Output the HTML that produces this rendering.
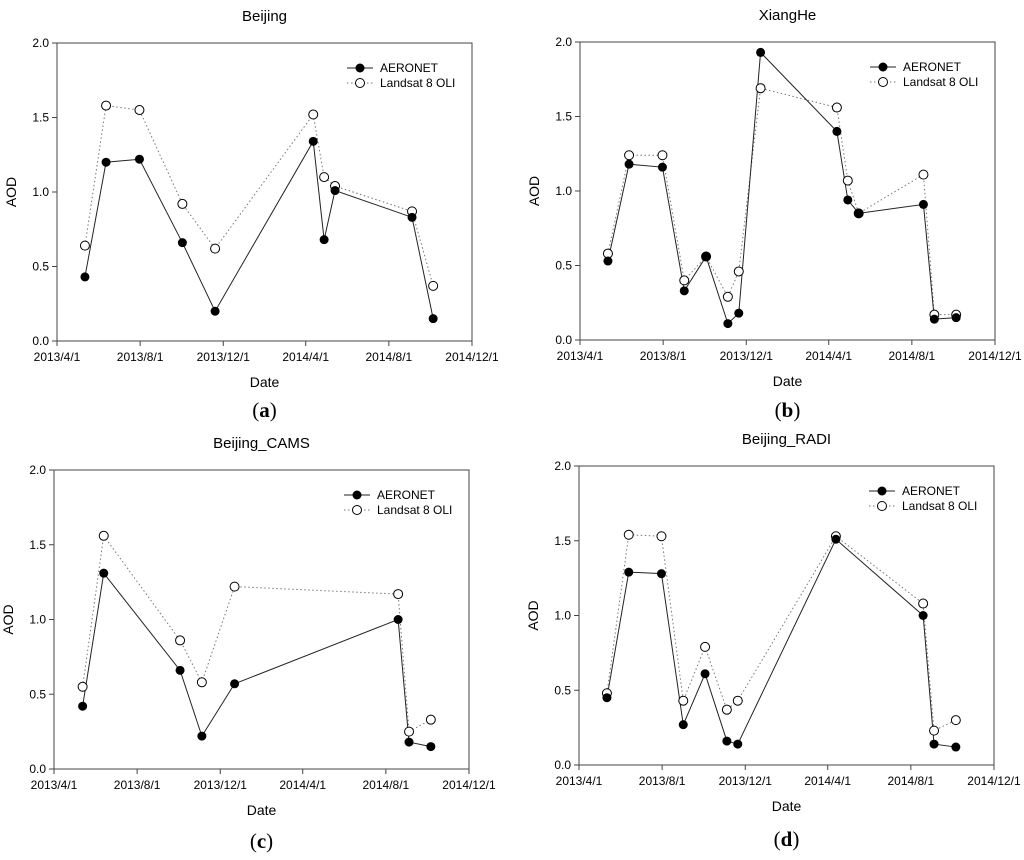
<!DOCTYPE html>
<html><head><meta charset="utf-8"><style>
body{margin:0;background:#fff;width:1024px;height:855px;overflow:hidden}
svg text{font-family:"Liberation Sans",Arial,sans-serif;fill:#000}
.cap{font-family:"Liberation Serif",serif;font-size:21px}
</style></head><body>
<svg id="fig" width="1024" height="855" viewBox="0 0 1024 855"></svg>
<script>
const tickLabels=["2013/4/1","2013/8/1","2013/12/1","2014/4/1","2014/8/1","2014/12/1"];
const tickDays=[0,122,244,365,487,609];
const yTicks=[0,0.5,1.0,1.5,2.0];
const aDays=[41,72,121,184,232,376,392,408,521,552];
const aAer=[0.43,1.20,1.22,0.66,0.20,1.34,0.68,1.01,0.83,0.15];
const aLand=[0.64,1.58,1.55,0.92,0.62,1.52,1.10,1.04,0.87,0.37];
const bDays=[41,72,121,153,185,217,233,265,377,393,409,504,520,552];
const bAer=[0.53,1.18,1.16,0.33,0.56,0.11,0.18,1.93,1.40,0.94,0.85,0.91,0.14,0.15];
const bLand=[0.58,1.24,1.24,0.40,0.56,0.29,0.46,1.69,1.56,1.07,0.85,1.11,0.17,0.17];
const cDays=[42,73,185,217,265,505,521,553];
const cAer=[0.42,1.31,0.66,0.22,0.57,1.00,0.18,0.15];
const cLand=[0.55,1.56,0.86,0.58,1.22,1.17,0.25,0.33];
const dDays=[41,73,121,153,185,217,233,377,505,521,553];
const dAer=[0.45,1.29,1.28,0.27,0.61,0.16,0.14,1.51,1.00,0.14,0.12];
const dLand=[0.48,1.54,1.53,0.43,0.79,0.37,0.43,1.53,1.08,0.23,0.30];

const NS="http://www.w3.org/2000/svg";
const svg=document.getElementById('fig');
function mk(tag,attrs,parent){const e=document.createElementNS(NS,tag);for(const k in attrs)e.setAttribute(k,attrs[k]);(parent||svg).appendChild(e);return e;}

function panel(id,title,cap,L,R,T,B,days,aer,land,capY){
  const g=mk('g',{});
  
  
  const xs=d=>L+(d/609)*(R-L);
  const ys=v=>B-(v/2)*(B-T);
  const cx=(L+R)/2;
  let t=mk('text',{x:cx,y:T-22,'text-anchor':'middle','font-size':15},g);t.textContent=title;
  
  const fr=mk('rect',{x:L,y:T,width:R-L,height:B-T,fill:'none',stroke:'#444','stroke-width':1},g);
  
  tickDays.forEach((d,i)=>{
    const x=xs(d);
    mk('line',{x1:x,x2:x,y1:B,y2:B+5,stroke:'#444'},g);
    const tl=mk('text',{x:x,y:B+20,'text-anchor':'middle','font-size':12},g);tl.textContent=tickLabels[i];
    
  });
  yTicks.forEach(v=>{
    const y=ys(v);
    mk('line',{x1:L-5,x2:L,y1:y,y2:y,stroke:'#444'},g);
    const tl=mk('text',{x:L-8,y:y+4,'text-anchor':'end','font-size':12},g);tl.textContent=v.toFixed(1);
    
  });
  const xt=mk('text',{x:cx,y:B+46,'text-anchor':'middle','font-size':14},g);xt.textContent='Date';
  
  const yx=L-41,yy=(T+B)/2;
  const yt=mk('text',{x:yx,y:yy,'text-anchor':'middle','font-size':14,transform:`rotate(-90 ${yx} ${yy})`},g);yt.textContent='AOD';
  
  const lp=land.map((v,i)=>xs(days[i])+','+ys(v)).join(' ');
  const ll=mk('polyline',{points:lp,fill:'none',stroke:'#777','stroke-width':1,'stroke-dasharray':'1.5,2.5'},g);
  
  const ap=aer.map((v,i)=>xs(days[i])+','+ys(v)).join(' ');
  const al=mk('polyline',{points:ap,fill:'none',stroke:'#222','stroke-width':1},g);
  
  land.forEach((v,i)=>{const c=mk('circle',{cx:xs(days[i]),cy:ys(v),r:4.5,fill:'#fff',stroke:'#000','stroke-width':1},g);
    });
  aer.forEach((v,i)=>{const c=mk('circle',{cx:xs(days[i]),cy:ys(v),r:4.5,fill:'#000'},g);
    });
  const lx=R-125,ly=T+25;
  const lg=mk('g',{},g);
  
  mk('line',{x1:lx,x2:lx+26,y1:ly,y2:ly,stroke:'#222'},lg);
  mk('circle',{cx:lx+13,cy:ly,r:4.5,fill:'#000'},lg);
  let lt=mk('text',{x:lx+33,y:ly+4,'font-size':12},lg);lt.textContent='AERONET';
  
  mk('line',{x1:lx,x2:lx+26,y1:ly+15,y2:ly+15,stroke:'#777','stroke-dasharray':'1.5,2.5'},lg);
  mk('circle',{cx:lx+13,cy:ly+15,r:4.5,fill:'#fff',stroke:'#000'},lg);
  lt=mk('text',{x:lx+33,y:ly+19,'font-size':12},lg);lt.textContent='Landsat 8 OLI';
  
  const cp=mk('text',{x:cx,y:capY,'text-anchor':'middle',class:'cap'},g);
  cp.innerHTML='(<tspan font-weight="bold">'+cap+'</tspan>)';
  
}
panel('a','Beijing','a',57,472,43,341,aDays,aAer,aLand,417);
panel('b','XiangHe','b',580,995,42,340,bDays,bAer,bLand,417);
panel('c','Beijing_CAMS','c',54,469,470,769,cDays,cAer,cLand,848);
panel('d','Beijing_RADI','d',579,994,466,765,dDays,dAer,dLand,846);
</script>
</body></html>
